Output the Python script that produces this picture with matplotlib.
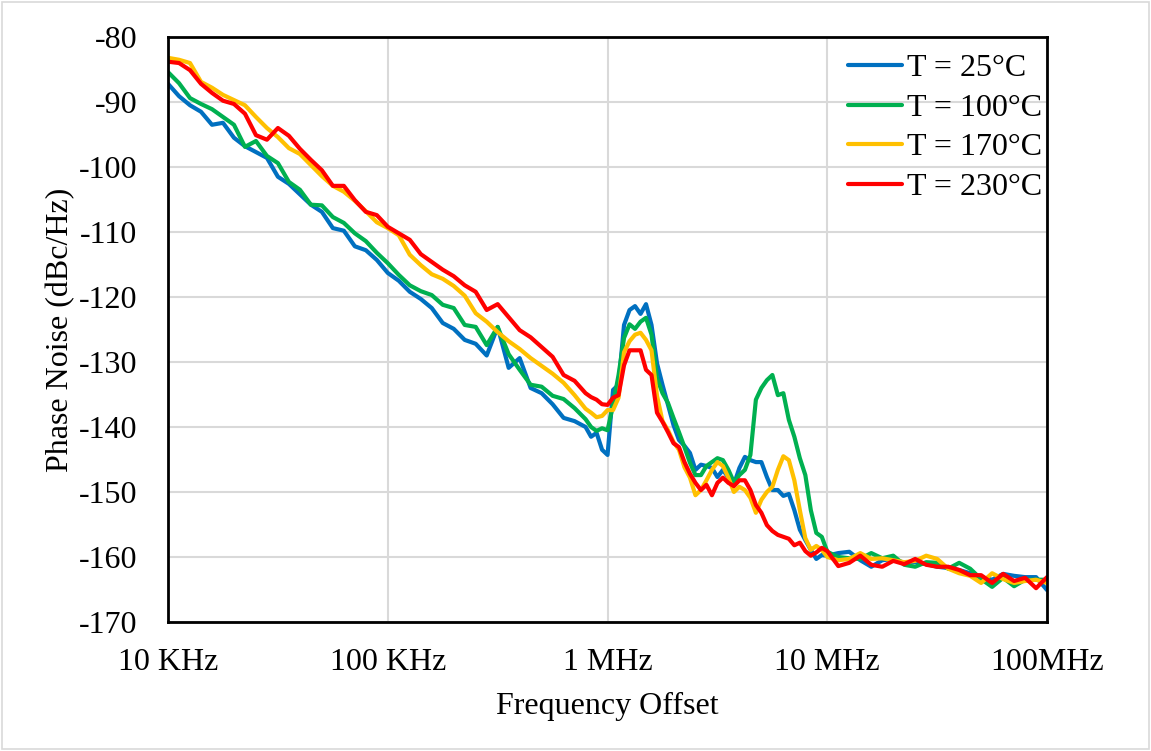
import numpy as np
import matplotlib
matplotlib.use("Agg")
import matplotlib.pyplot as plt
from matplotlib.patches import Rectangle

# Offset frequency grid (log10 Hz): 0.05 steps, with a denser 0.025 sweep
# across the 0.8 MHz - 10 MHz spur region
log_freq = np.round(np.concatenate([
    np.arange(4.0, 5.86, 0.05),
    np.arange(5.9, 7.001, 0.025),
    np.arange(7.05, 8.001, 0.05),
]), 3)
freq_hz = 10.0 ** log_freq

pn_25c = [
    # 10 kHz - 708 kHz
    -87.2, -89.1, -90.5, -91.5, -93.5, -93.2, -95.5, -96.8, -97.7, -98.6,
    -101.5, -102.6, -104.2, -105.8, -106.9, -109.4, -109.8, -112.2, -112.8, -114.3,
    -116.3, -117.5, -119.2, -120.3, -121.7, -124.0, -124.9, -126.6, -127.2, -129.0,
    -124.6, -130.9, -129.4, -134.0, -134.8, -136.5, -138.6, -139.1,
    # 794 kHz - 10 MHz
    -140.0, -141.5, -140.9, -143.5, -144.3, -134.3, -133.5, -124.3, -122.0, -121.4,
    -122.6, -121.1, -124.3, -130.2, -133.5, -136.6, -139.7, -142.0, -142.9, -144.0,
    -146.6, -145.8, -146.0, -146.3, -147.7, -146.6, -147.8, -148.8, -146.3, -144.6,
    -145.1, -145.4, -145.4, -147.7, -149.7, -149.7, -150.6, -150.3, -152.8, -155.8,
    -157.4, -158.9, -160.3, -159.7, -159.8,
    # 11.2 MHz - 100 MHz
    -159.4, -159.2, -160.5, -161.5, -160.5, -160.3, -160.9, -160.8, -161.1, -161.5,
    -161.7, -162.0, -162.5, -163.1, -163.5, -162.6, -162.9, -163.1, -163.1, -165.1,
]

pn_100c = [
    -85.4, -87.1, -89.4, -90.3, -91.1, -92.3, -93.5, -96.9, -96.0, -98.3,
    -99.4, -102.3, -103.5, -105.8, -105.9, -107.7, -108.6, -110.2, -111.4, -113.2,
    -114.8, -116.6, -118.2, -119.1, -119.7, -121.2, -121.7, -124.3, -124.6, -127.4,
    -124.6, -128.8, -131.2, -133.5, -133.8, -135.2, -135.7, -137.1,
    -138.8, -140.0, -140.6, -140.2, -140.5, -136.6, -132.0, -126.3, -124.2, -124.9,
    -123.8, -123.2, -125.8, -132.5, -134.8, -136.3, -138.6, -140.8, -143.1, -145.5,
    -147.4, -147.4, -146.0, -145.4, -144.8, -145.1, -146.6, -148.5, -147.4, -146.6,
    -144.3, -135.8, -134.0, -132.8, -132.0, -135.1, -134.8, -138.9, -141.5, -144.8,
    -147.4, -152.8, -156.3, -156.9, -159.2,
    -160.0, -160.2, -160.3, -159.4, -160.2, -159.8, -161.2, -161.5, -160.8, -160.9,
    -161.8, -160.9, -161.8, -163.4, -164.6, -163.2, -164.5, -163.5, -163.5, -163.5,
]

pn_170c = [
    -83.2, -83.5, -84.0, -86.9, -87.8, -88.9, -89.7, -90.5, -92.3, -94.0,
    -95.4, -97.1, -98.0, -99.7, -101.4, -102.9, -103.8, -105.2, -106.8, -108.5,
    -109.4, -110.5, -113.5, -115.1, -116.5, -117.2, -118.3, -119.8, -122.5, -123.8,
    -125.4, -126.8, -128.0, -129.4, -130.6, -131.8, -133.2, -135.1,
    -137.2, -137.8, -138.5, -138.3, -137.4, -137.4, -135.5, -128.5, -126.8, -125.8,
    -125.5, -126.6, -128.2, -135.2, -139.1, -140.5, -142.3, -143.5, -146.2, -147.8,
    -150.5, -149.7, -148.2, -146.6, -145.4, -146.0, -147.8, -150.0, -149.2, -149.7,
    -150.9, -153.2, -151.2, -150.0, -149.2, -146.6, -144.5, -145.1, -148.2, -152.8,
    -157.1, -158.9, -158.3, -158.9, -160.0,
    -160.5, -160.3, -159.4, -160.3, -160.2, -160.5, -160.8, -160.6, -159.8, -160.3,
    -161.8, -162.5, -162.9, -164.0, -162.5, -163.4, -164.0, -163.7, -163.5, -164.0,
]

pn_230c = [
    -83.8, -84.0, -85.1, -87.2, -88.6, -89.8, -90.3, -91.8, -95.1, -95.8,
    -94.0, -95.2, -97.2, -98.9, -100.5, -102.9, -102.9, -105.1, -106.9, -107.4,
    -109.2, -110.2, -111.2, -113.4, -114.6, -115.8, -116.8, -118.2, -119.2, -122.0,
    -121.1, -123.1, -125.1, -126.2, -127.7, -129.2, -132.0, -132.9,
    -134.8, -135.4, -135.8, -136.5, -136.6, -135.5, -135.1, -130.5, -128.2, -128.2,
    -128.2, -131.2, -132.0, -137.8, -139.2, -140.8, -142.5, -143.1, -145.4, -147.2,
    -148.6, -149.7, -148.9, -150.5, -148.6, -147.8, -148.6, -149.1, -148.2, -148.2,
    -149.7, -152.0, -153.2, -155.1, -156.0, -156.6, -156.9, -157.2, -158.2, -157.8,
    -159.1, -159.8, -159.3, -158.6, -159.1,
    -161.4, -160.9, -159.8, -161.2, -161.5, -160.6, -161.1, -160.3, -161.2, -161.5,
    -161.5, -162.0, -162.8, -162.8, -164.0, -162.6, -163.7, -163.2, -164.8, -163.1,
]

series_labels = ["T = 25°C", "T = 100°C", "T = 170°C", "T = 230°C"]
series_colors = ["#0070C0", "#00B050", "#FFC000", "#FF0000"]

x_ticks = [1e4, 1e5, 1e6, 1e7, 1e8]
x_tick_labels = ["10 KHz", "100 KHz", "1 MHz", "10 MHz", "100MHz"]
y_ticks = list(range(-170, -79, 10))

FS = 23
plt.rcParams["font.family"] = ["Liberation Serif", "DejaVu Serif"]
plt.rcParams["font.size"] = FS

fig = plt.figure(figsize=(11.51, 7.51), dpi=100)
ax = fig.add_axes([0.146, 0.1718, 0.7637, 0.7789])

for values, label, color in zip([pn_25c, pn_100c, pn_170c, pn_230c],
                                series_labels, series_colors):
    ax.plot(freq_hz, values, color=color, lw=3.0, label=label,
            solid_joinstyle="round", solid_capstyle="round")

ax.set_xscale("log")
ax.set_xlim(1e4, 1e8)
ax.set_ylim(-170, -80)
ax.set_xticks(x_ticks)
ax.set_xticklabels(x_tick_labels)
ax.xaxis.set_minor_locator(matplotlib.ticker.NullLocator())
ax.set_yticks(y_ticks)
ax.set_yticklabels([str(v) for v in y_ticks])
ax.tick_params(axis="both", length=0, labelsize=FS)
ax.tick_params(axis="y", pad=22)
ax.tick_params(axis="x", pad=18.5)
ax.grid(True, color="#D9D9D9", lw=1.5)
ax.set_axisbelow(True)
for sp in ax.spines.values():
    sp.set_color("black")
    sp.set_linewidth(2.0)

ax.set_ylabel("Phase Noise (dBc/Hz)", fontsize=FS, labelpad=3)
ax.set_xlabel("Frequency Offset", fontsize=FS, labelpad=11)

leg = ax.legend(loc="upper right", frameon=False, fontsize=FS,
                handlelength=1.7, handletextpad=0.16, labelspacing=0.32,
                borderpad=0.1, borderaxespad=0.15,
                bbox_to_anchor=(1.004, 0.985))
for h in leg.get_lines():
    h.set_linewidth(3.0)

# chart-area border
fig.patches.append(Rectangle((0.002, 0.003), 0.996, 0.994, transform=fig.transFigure,
                             fill=False, edgecolor="#D9D9D9", lw=1.2))

fig.savefig("out.png", dpi=100)
